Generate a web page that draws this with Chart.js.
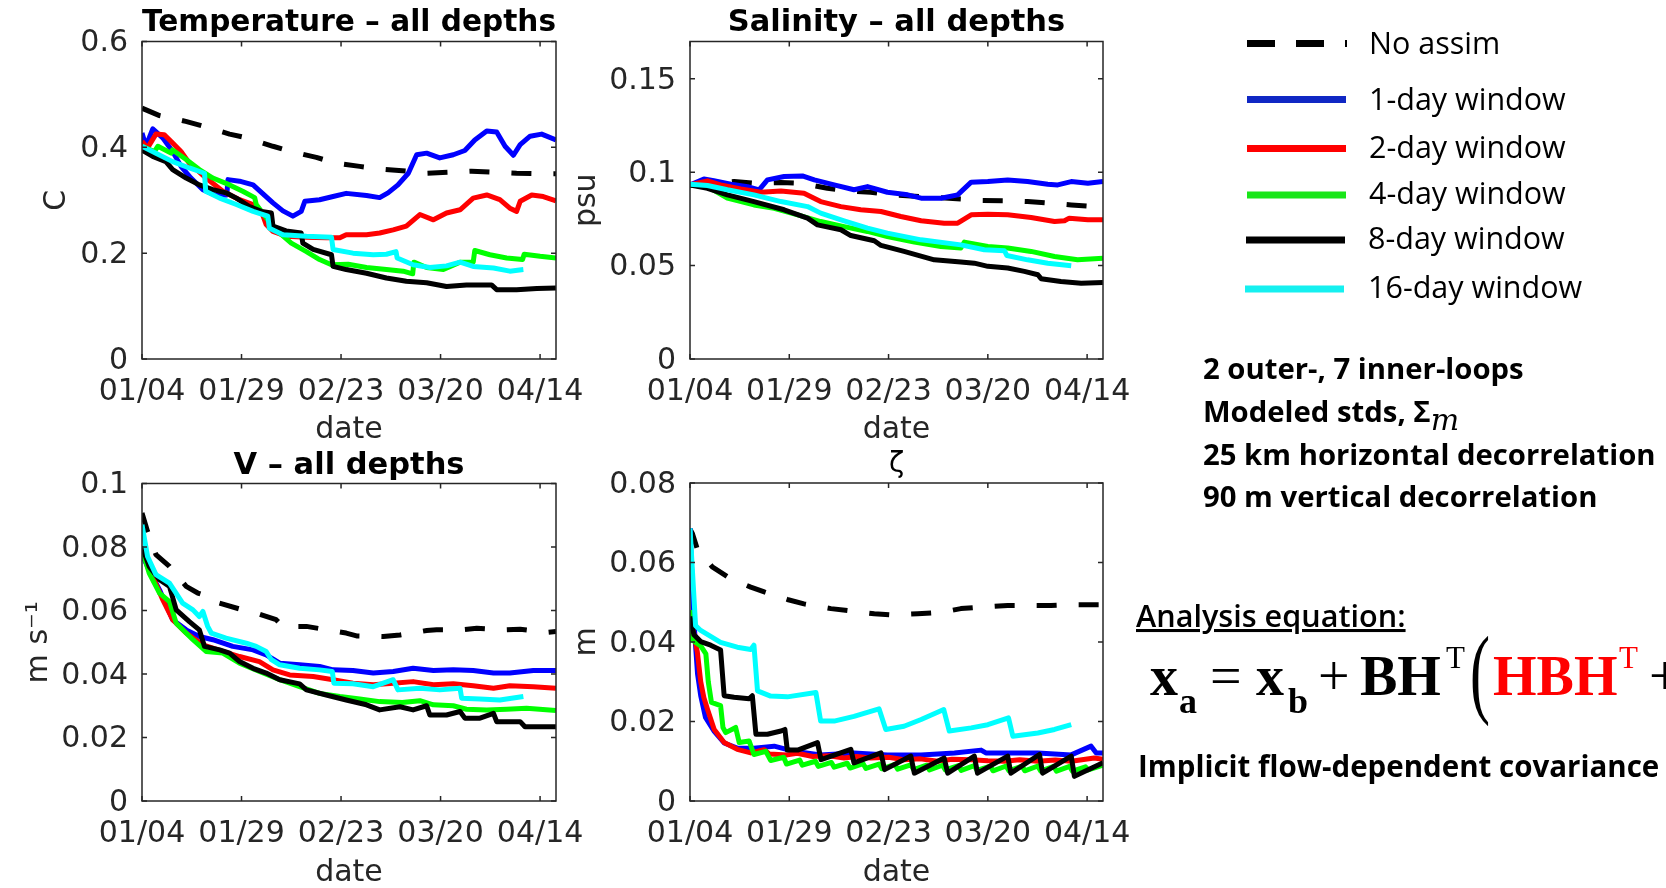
<!DOCTYPE html>
<html>
<head>
<meta charset="utf-8">
<script src="https://cdn.jsdelivr.net/npm/chart.js@4.4.1/dist/chart.umd.min.js"></script>
<style>
  html, body { margin: 0; padding: 0; background: #fff; }
  body { width: 1666px; height: 888px; position: relative; overflow: hidden; }
  canvas.panel { position: absolute; }
  #notes { position: absolute; left: 0; top: 0; }
</style>
</head>
<body>
<canvas id="tempChart" class="panel" width="640" height="450" style="left:0;top:0"></canvas>
<canvas id="saltChart" class="panel" width="600" height="450" style="left:560px;top:0"></canvas>
<canvas id="velChart" class="panel" width="640" height="460" style="left:0;top:440px"></canvas>
<canvas id="zetaChart" class="panel" width="600" height="460" style="left:560px;top:440px"></canvas>

<svg id="notes" width="1666" height="888" xmlns="http://www.w3.org/2000/svg">
  <!-- legend -->
  <g stroke-width="7" fill="none">
    <line x1="1247" y1="43.5" x2="1347" y2="43.5" stroke="#000" stroke-dasharray="28 21"/>
    <line x1="1247" y1="99.5" x2="1346" y2="99.5" stroke="#1027c4"/>
    <line x1="1247" y1="148.5" x2="1346" y2="148.5" stroke="#ff0000"/>
    <line x1="1247" y1="195" x2="1346" y2="195" stroke="#19e619"/>
    <line x1="1246" y1="240" x2="1345" y2="240" stroke="#000"/>
    <line x1="1245" y1="289" x2="1344" y2="289" stroke="#15f0f0"/>
  </g>
  <g font-family="Open Sans" font-size="30.5" fill="#000">
    <text x="1369" y="54">No assim</text>
    <text x="1369" y="110">1-day window</text>
    <text x="1369" y="158">2-day window</text>
    <text x="1369" y="204">4-day window</text>
    <text x="1368" y="249">8-day window</text>
    <text x="1368" y="298">16-day window</text>
  </g>

  <!-- experiment settings -->
  <g font-family="Open Sans" font-weight="700" font-size="29.3" fill="#000">
    <text x="1203" y="379">2 outer-, 7 inner-loops</text>
    <text x="1203" y="422">Modeled stds, Σ<tspan font-family="DejaVu Serif" font-style="italic" font-weight="normal" font-size="30" dy="8">m</tspan></text>
    <text x="1203" y="465">25 km horizontal decorrelation</text>
    <text x="1203" y="507">90 m vertical decorrelation</text>
    <text x="1138" y="777" font-size="29.5">Implicit flow-dependent covariance</text>
  </g>
  <text x="1136" y="627" font-family="Open Sans" font-weight="600" font-size="30.6" text-decoration="underline">Analysis equation:</text>

  <!-- analysis equation -->
  <g font-family="Liberation Serif" fill="#000">
    <text x="1150" y="695" font-size="56" font-weight="bold">x</text>
    <text x="1179" y="713" font-size="36" font-weight="bold">a</text>
    <text x="1210" y="695" font-size="56">=</text>
    <text x="1256" y="695" font-size="56" font-weight="bold">x</text>
    <text x="1288" y="713" font-size="36" font-weight="bold">b</text>
    <text x="1318" y="695" font-size="56">+</text>
    <text x="1360" y="695" font-size="56" font-weight="bold">BH</text>
    <text x="1446" y="668" font-size="31">T</text>
    <text transform="translate(1470,705) scale(1,1.65)" font-size="60">(</text>
    <text x="1493" y="695" font-size="56" font-weight="bold" fill="#ff0000">HBH</text>
    <text x="1619" y="668" font-size="31" fill="#ff0000">T</text>
    <text x="1649" y="695" font-size="56">+</text>
  </g>
</svg>

<script>
// x axis: days since 01/04
const dayTicks = [0, 25, 50, 75, 100];
const dayLabels = ['01/04', '01/29', '02/23', '03/20', '04/14'];

const seriesNames = ['No assim', '1-day window', '2-day window', '4-day window', '8-day window', '16-day window'];
const seriesColors = ['#000000', '#0000ff', '#ff0000', '#00ff00', '#000000', '#00ffff'];

const tempTicks = [0, 0.2, 0.4, 0.6];
const saltTicks = [0, 0.05, 0.1, 0.15];
const velTicks = [0, 0.02, 0.04, 0.06, 0.08, 0.1];
const zetaTicks = [0, 0.02, 0.04, 0.06, 0.08];

// Temperature RMS error (C), [day, value]
const tempNoAssim = [[0,0.474],[4.4,0.460],[11,0.449],[15.3,0.440],[22,0.425],[26.2,0.418],[32.9,0.402],[37.5,0.392],[43.8,0.381],[48.8,0.370],[54.7,0.364],[59.7,0.359],[66.4,0.355],[71.5,0.351],[77.3,0.353],[82.8,0.355],[88.7,0.353],[94.1,0.351],[100,0.350],[104,0.350]];
const tempDay1 = [[0,0.427],[1.0,0.402],[2.7,0.435],[5.2,0.418],[7.7,0.392],[9.8,0.364],[12.3,0.342],[15.3,0.320],[18.6,0.309],[21.3,0.310],[21.6,0.339],[24.5,0.336],[27.9,0.329],[30.4,0.312],[32.9,0.295],[35.4,0.280],[37.9,0.270],[40.0,0.279],[40.9,0.298],[44.6,0.301],[48.0,0.307],[51.3,0.313],[56.4,0.309],[59.7,0.305],[61.8,0.314],[64.3,0.329],[66.9,0.351],[69.0,0.386],[71.5,0.389],[74.8,0.380],[78.2,0.386],[81.1,0.394],[83.6,0.414],[86.6,0.431],[89.1,0.429],[91.2,0.402],[93.3,0.385],[95.0,0.405],[97.5,0.421],[100.4,0.425],[104,0.414]];
const tempDay2 = [[0,0.411],[1.4,0.399],[3.5,0.425],[5.6,0.424],[7.7,0.408],[9.8,0.392],[11.9,0.370],[16.1,0.342],[20.3,0.317],[24.5,0.301],[27.9,0.292],[30.0,0.279],[31.2,0.254],[32.9,0.241],[36.2,0.232],[41.3,0.230],[46.3,0.229],[49.7,0.229],[51.3,0.235],[56.4,0.235],[59.7,0.238],[63.1,0.244],[66.4,0.251],[69.8,0.273],[73.2,0.263],[76.5,0.276],[79.9,0.282],[83.2,0.304],[86.6,0.310],[89.9,0.301],[92.4,0.285],[94.1,0.279],[95.0,0.298],[97.9,0.310],[100.8,0.307],[104,0.299]];
const tempDay4 = [[0,0.402],[3.1,0.392],[4.0,0.402],[7.3,0.389],[7.7,0.395],[11.1,0.377],[14.4,0.358],[17.8,0.342],[22.0,0.329],[25.3,0.317],[28.3,0.305],[28.7,0.292],[31.6,0.263],[34.6,0.238],[37.5,0.219],[41.3,0.203],[44.6,0.188],[47.6,0.178],[51.8,0.179],[56.4,0.173],[61.4,0.169],[65.6,0.166],[68.0,0.161],[68.3,0.183],[71.5,0.173],[75.7,0.169],[79.9,0.183],[83.2,0.183],[83.6,0.205],[87.4,0.197],[91.6,0.191],[95.6,0.188],[96.0,0.198],[100.0,0.194],[104,0.191]];
const tempDay8 = [[0,0.395],[2.7,0.383],[6.0,0.373],[7.7,0.358],[11.1,0.342],[14.4,0.329],[17.8,0.320],[21.1,0.314],[23.7,0.304],[27.0,0.288],[30.0,0.279],[32.5,0.276],[32.9,0.251],[36.2,0.242],[40.0,0.238],[40.4,0.219],[43.0,0.207],[47.6,0.197],[48.0,0.175],[51.3,0.169],[56.4,0.162],[61.4,0.153],[66.4,0.147],[71.5,0.144],[76.5,0.137],[81.5,0.140],[84.9,0.140],[87.8,0.140],[89.1,0.131],[94.1,0.131],[99.2,0.133],[104,0.134]];
const tempDay16 = [[0,0.402],[3.5,0.389],[7.7,0.373],[11.9,0.361],[15.7,0.351],[16.0,0.317],[19.5,0.304],[23.7,0.292],[27.9,0.279],[31.6,0.270],[32.0,0.247],[35.4,0.235],[41.3,0.232],[47.6,0.230],[48.0,0.207],[53.0,0.200],[58.1,0.197],[61.4,0.198],[63.8,0.203],[64.1,0.191],[68.1,0.178],[72.3,0.173],[76.5,0.176],[79.9,0.183],[83.2,0.175],[88.3,0.172],[92.4,0.166],[95.8,0.169]];

// Salinity RMS error (psu)
const saltNoAssim = [[0,0.0932],[11.1,0.0950],[16.1,0.0941],[22.9,0.0945],[28,0.0941],[34.6,0.0914],[39.7,0.0900],[45.5,0.0893],[50.6,0.0879],[58.2,0.0870],[68.2,0.0857],[73.3,0.0849],[80.0,0.0847],[85.0,0.0843],[90.9,0.0834],[96.0,0.0825],[104,0.0813]];
const saltDay1 = [[0,0.0932],[3.5,0.0964],[6.0,0.0954],[10.3,0.0936],[14.5,0.0923],[17.4,0.0906],[19.5,0.0959],[23.7,0.0977],[28.3,0.0980],[31.3,0.0959],[36.3,0.0932],[41.3,0.0906],[44.7,0.0923],[49.7,0.0893],[54.8,0.0879],[58.2,0.0861],[63.2,0.0861],[67.4,0.0879],[70.8,0.0947],[75.0,0.0950],[80.0,0.0959],[85.0,0.0950],[90.1,0.0936],[92.6,0.0932],[96.0,0.0950],[100.2,0.0941],[104,0.0950]];
const saltDay2 = [[0,0.0932],[4.4,0.0954],[7.7,0.0932],[12.8,0.0911],[17.8,0.0893],[22.9,0.0900],[28.7,0.0888],[32.9,0.0843],[38.0,0.0816],[43.0,0.0799],[48.1,0.0790],[53.1,0.0763],[58.2,0.0740],[64.0,0.0727],[67.4,0.0727],[70.8,0.0772],[75.0,0.0775],[80.0,0.0772],[85.9,0.0758],[91.8,0.0736],[94.3,0.0740],[95.5,0.0754],[100.2,0.0745],[104,0.0745]];
const saltDay4 = [[0,0.0932],[4.4,0.0923],[9.4,0.0861],[16.1,0.0825],[21.2,0.0807],[27.1,0.0772],[32.9,0.0736],[38.8,0.0709],[44.7,0.0683],[49.7,0.0656],[56.5,0.0626],[63.2,0.0602],[68.2,0.0594],[69.1,0.0626],[75.0,0.0602],[80.0,0.0594],[85.9,0.0576],[91.8,0.0549],[97.6,0.0531],[104,0.0540]];
const saltDay8 = [[0,0.0932],[4.4,0.0914],[9.4,0.0879],[16.1,0.0843],[23.7,0.0799],[29.6,0.0754],[32.1,0.0718],[38.0,0.0692],[40.5,0.0661],[46.4,0.0633],[48.1,0.0608],[53.9,0.0576],[61.5,0.0531],[68.2,0.0519],[71.6,0.0513],[75.0,0.0496],[80.0,0.0487],[84.2,0.0469],[87.6,0.0451],[88.4,0.0430],[93.4,0.0415],[98.5,0.0406],[104,0.0410]];
const saltDay16 = [[0,0.0936],[4.4,0.0929],[9.4,0.0906],[16.1,0.0879],[22.9,0.0843],[29.6,0.0816],[32.9,0.0781],[38.8,0.0740],[44.7,0.0701],[49.7,0.0674],[58.2,0.0638],[68.2,0.0611],[74.1,0.0585],[79.2,0.0579],[79.8,0.0554],[85.0,0.0531],[90.1,0.0513],[96.0,0.0499]];

// Velocity RMS error (m/s)
const velNoAssim = [[0,0.0907],[1.4,0.0849],[3.5,0.0776],[6.9,0.0739],[11.1,0.0676],[14.0,0.0655],[16.5,0.0645],[17.5,0.0630],[25.3,0.0602],[28.7,0.0592],[33.7,0.0571],[35.4,0.0550],[41.3,0.0550],[45.5,0.0541],[51.3,0.0529],[53.9,0.0520],[60.6,0.0518],[64.8,0.0523],[71.5,0.0537],[74.0,0.0539],[79.9,0.0539],[84.1,0.0544],[90.8,0.0539],[95.0,0.0541],[101.7,0.0531],[104,0.0534]];
const velDay1 = [[0,0.0776],[1.8,0.0728],[4.4,0.0665],[7.7,0.0571],[11.1,0.0539],[14.4,0.0518],[17.8,0.0508],[22.8,0.0487],[27.9,0.0476],[31.2,0.0460],[34.6,0.0434],[39.6,0.0429],[44.6,0.0424],[48.0,0.0413],[53.0,0.0411],[58.1,0.0403],[63.1,0.0408],[68.1,0.0418],[73.2,0.0411],[78.2,0.0413],[83.2,0.0411],[88.3,0.0403],[92.4,0.0403],[98.3,0.0411],[104,0.0411]];
const velDay2 = [[0,0.0786],[2.7,0.0707],[5.2,0.0634],[7.7,0.0571],[11.1,0.0529],[15.3,0.0492],[20.3,0.0471],[24.5,0.0455],[29.5,0.0439],[32.9,0.0413],[37.1,0.0397],[43.0,0.0392],[48.0,0.0382],[53.0,0.0371],[58.1,0.0366],[63.1,0.0371],[68.1,0.0376],[73.2,0.0366],[78.2,0.0369],[83.2,0.0363],[88.3,0.0355],[92.4,0.0363],[98.3,0.0360],[104,0.0355]];
const velDay4 = [[0,0.0791],[1.8,0.0718],[4.4,0.0655],[6.9,0.0628],[8.6,0.0560],[12.8,0.0508],[16.1,0.0471],[20.3,0.0466],[24.5,0.0434],[29.5,0.0408],[34.6,0.0382],[39.6,0.0360],[44.6,0.0339],[49.7,0.0329],[54.7,0.0321],[59.7,0.0313],[65.4,0.0310],[69.8,0.0316],[73.2,0.0303],[78.2,0.0300],[81.5,0.0289],[86.6,0.0287],[91.6,0.0289],[96.6,0.0292],[104,0.0285]];
const velDay8 = [[0,0.0802],[1.8,0.0739],[4.4,0.0697],[6.9,0.0676],[8.6,0.0602],[11.9,0.0565],[14.4,0.0539],[15.7,0.0487],[19.5,0.0476],[22.0,0.0466],[24.5,0.0439],[27.9,0.0418],[31.2,0.0403],[34.6,0.0382],[39.6,0.0369],[41.3,0.0350],[46.3,0.0334],[51.3,0.0318],[56.4,0.0303],[59.7,0.0287],[64.8,0.0297],[68.1,0.0287],[71.5,0.0300],[72.3,0.0271],[76.5,0.0271],[79.9,0.0282],[81.1,0.0261],[84.9,0.0261],[88.3,0.0276],[89.1,0.0250],[95.0,0.0250],[96.2,0.0234],[104,0.0234]];
const velDay16 = [[0,0.0870],[1.4,0.0770],[3.5,0.0713],[6.9,0.0686],[10.2,0.0623],[12.8,0.0602],[14.4,0.0581],[15.3,0.0597],[16.5,0.0550],[17.4,0.0529],[21.1,0.0513],[26.2,0.0497],[28.7,0.0487],[31.2,0.0471],[32.5,0.0445],[34.6,0.0429],[39.6,0.0418],[44.6,0.0413],[47.8,0.0408],[48.2,0.0371],[53.0,0.0369],[58.1,0.0360],[63.1,0.0382],[64.3,0.0350],[69.8,0.0355],[74.8,0.0350],[79.9,0.0355],[80.3,0.0324],[84.9,0.0321],[89.9,0.0318],[95.8,0.0329]];

// Sea surface height RMS error (m)
const zetaNoAssim = [[0,0.0684],[0.6,0.0673],[1.8,0.0635],[5.6,0.0589],[10.3,0.0559],[15.3,0.0538],[18.7,0.0526],[24.5,0.0507],[28.7,0.0496],[35.5,0.0484],[39.7,0.0479],[46.4,0.0471],[50.6,0.0468],[57.3,0.0471],[63.4,0.0475],[68.2,0.0484],[73.3,0.0488],[80.0,0.0492],[85.0,0.0492],[90.9,0.0492],[96.0,0.0494],[104,0.0494]];
const zetaDay1 = [[0,0.0686],[0.5,0.056],[1.2,0.042],[1.9,0.032],[2.7,0.0265],[3.9,0.021],[6.1,0.0175],[8.6,0.0146],[11.9,0.0133],[16.1,0.0133],[21.2,0.0138],[26.2,0.0125],[32.9,0.0116],[41.3,0.0121],[49.7,0.0116],[58.2,0.0116],[66.6,0.0121],[73.3,0.0128],[74.5,0.0121],[80.0,0.0121],[87.6,0.0121],[96.0,0.0116],[101.0,0.0138],[102.3,0.0121],[104,0.0121]];
const zetaDay2 = [[0,0.046],[1.0,0.042],[1.85,0.0375],[2.7,0.030],[3.5,0.026],[4.4,0.0231],[6.1,0.018],[8.6,0.0147],[11.9,0.013],[15.3,0.0121],[18.7,0.0129],[20,0.0118],[24.5,0.0116],[27,0.0120],[30.9,0.0112],[35,0.0114],[38.8,0.0108],[42,0.0112],[45.5,0.0108],[50,0.0110],[53.9,0.0104],[58,0.0106],[62.4,0.0100],[66,0.0105],[70.8,0.0104],[75,0.0101],[79.2,0.0100],[83,0.0104],[87.6,0.0100],[92,0.0103],[96,0.0100],[101.8,0.0108],[104,0.0105]];
const zetaDay4 = [[0,0.048],[0.6,0.0405],[2.7,0.039],[4.0,0.037],[4.6,0.030],[5.4,0.0248],[7.7,0.024],[8.3,0.0185],[9.0,0.0172],[11.5,0.0185],[12.4,0.0147],[14.9,0.0151],[16.1,0.0117],[19.1,0.0125],[20.3,0.0102],[23.6,0.0110],[24.3,0.0093],[27.6,0.0103],[28.3,0.0090],[31.6,0.0100],[32.3,0.0087],[35.6,0.0097],[36.3,0.0085],[39.6,0.0095],[40.3,0.0083],[43.6,0.0094],[44.3,0.0082],[47.6,0.0093],[48.3,0.0081],[51.6,0.0092],[52.3,0.0080],[55.6,0.0091],[56.3,0.0079],[59.6,0.0090],[60.3,0.0078],[63.6,0.0090],[64.3,0.0078],[67.6,0.0089],[68.3,0.0077],[71.6,0.0089],[72.3,0.0077],[75.6,0.0088],[76.3,0.0076],[79.6,0.0088],[80.3,0.0076],[83.6,0.0088],[84.3,0.0076],[87.6,0.0088],[88.3,0.0075],[91.6,0.0087],[92.3,0.0075],[95.6,0.0087],[96.3,0.0075],[99.6,0.0086],[100.3,0.0078],[104,0.0090]];
const zetaDay8 = [[0,0.0464],[1.0,0.0418],[2.7,0.0401],[5.2,0.0392],[7.7,0.0380],[8.6,0.0265],[11.1,0.0261],[14.9,0.0257],[15.7,0.0265],[16.6,0.0168],[19.5,0.0168],[22.9,0.0176],[23.9,0.0180],[24.5,0.0128],[27.1,0.0128],[32.1,0.0147],[33.0,0.0104],[40.5,0.0130],[41.3,0.0096],[48.1,0.0121],[49.0,0.0079],[55.6,0.0113],[56.5,0.0070],[64.0,0.0108],[64.9,0.0070],[71.6,0.0113],[72.4,0.0070],[80.0,0.0113],[80.8,0.0070],[88.0,0.0117],[88.8,0.0070],[96.0,0.0113],[96.8,0.0062],[104,0.0096]];
const zetaDay16 = [[0,0.0686],[1.4,0.0441],[2.7,0.0429],[7.7,0.0399],[11.9,0.0387],[15.3,0.0381],[16.1,0.0392],[17.0,0.0277],[20.3,0.0264],[24.5,0.0262],[31.7,0.0273],[32.9,0.0201],[36.3,0.0201],[41.3,0.0213],[47.6,0.0232],[49.3,0.0180],[53.9,0.0188],[58.2,0.0205],[63.9,0.0230],[65.3,0.0176],[70.8,0.0184],[75.0,0.0192],[80.2,0.0209],[81.3,0.0163],[87.6,0.0171],[91.8,0.0180],[96.0,0.0192]];

const tickFont = { family: 'DejaVu Sans', size: 30, lineHeight: 1 };
const labelFont = { family: 'DejaVu Sans', size: 30, lineHeight: 1 };
const axisColor = '#262626';

// box around the plot area with inward tick marks on all four sides
const framePlugin = {
  id: 'frame',
  afterDatasetsDraw(chart) {
    const { ctx, chartArea: a } = chart;
    const xs = chart.scales.x;
    const ys = chart.scales.y;
    ctx.save();
    ctx.strokeStyle = axisColor;
    ctx.lineWidth = 1.5;
    ctx.beginPath();
    xs.ticks.forEach(t => {
      const p = xs.getPixelForValue(t.value);
      ctx.moveTo(p, a.bottom);
      ctx.lineTo(p, a.bottom - 5);
      ctx.moveTo(p, a.top);
      ctx.lineTo(p, a.top + 5);
    });
    ys.ticks.forEach(t => {
      const p = ys.getPixelForValue(t.value);
      ctx.moveTo(a.left, p);
      ctx.lineTo(a.left + 5, p);
      ctx.moveTo(a.right, p);
      ctx.lineTo(a.right - 5, p);
    });
    ctx.stroke();
    ctx.strokeRect(a.left, a.top, a.right - a.left, a.bottom - a.top);
    ctx.restore();
  }
};

function drawPanel(canvasId, p) {
  const datasets = p.series.map((pts, i) => ({
    label: seriesNames[i],
    data: pts.map(([x, y]) => ({ x, y })),
    borderColor: seriesColors[i],
    borderWidth: 5,
    borderDash: i === 0 ? [20, 22] : [],
    borderJoinStyle: 'round',
    pointRadius: 0,
    fill: false,
    order: seriesNames.length - 1 - i
  }));

  return new Chart(document.getElementById(canvasId), {
    type: 'line',
    data: { datasets },
    options: {
      responsive: false,
      animation: false,
      devicePixelRatio: 1,
      layout: { padding: { left: 0, top: 0, right: p.padRight, bottom: 0 } },
      plugins: {
        legend: { display: false },
        tooltip: { enabled: false },
        title: {
          display: true,
          text: p.title,
          fullSize: false,
          color: '#000',
          font: { family: 'DejaVu Sans', size: p.titleSize, weight: p.titleWeight, lineHeight: 1 },
          padding: { top: p.titleTop, bottom: p.titleBottom }
        }
      },
      scales: {
        x: {
          type: 'linear',
          min: 0,
          max: 104,
          grid: { display: false, drawTicks: false },
          border: { display: false },
          afterBuildTicks: s => { s.ticks = dayTicks.map(v => ({ value: v })); },
          afterFit: s => { s.height = p.xAxisHeight; },
          ticks: {
            callback: v => dayLabels[dayTicks.indexOf(v)],
            color: axisColor,
            font: tickFont,
            padding: 18,
            maxRotation: 0,
            autoSkip: false
          },
          title: { display: true, text: 'date', color: axisColor, font: labelFont, padding: { top: 0, bottom: p.datePad } }
        },
        y: {
          min: 0,
          max: p.yMax,
          grid: { display: false, drawTicks: false },
          border: { display: false },
          afterBuildTicks: s => { s.ticks = p.yTicks.map(v => ({ value: v })); },
          afterFit: s => { s.width = p.yAxisWidth; },
          ticks: { callback: v => String(v), color: axisColor, font: tickFont, padding: 14, labelOffset: 2 },
          title: { display: true, text: p.yTitle, color: axisColor, font: labelFont, padding: { top: p.yTitlePad, bottom: 0 } }
        }
      }
    },
    plugins: [framePlugin]
  });
}

drawPanel('tempChart', {
  title: 'Temperature – all depths', titleSize: 30.5, titleWeight: 'bold', titleTop: 8, titleBottom: 3,
  yTitle: 'C', yTitlePad: 42, yMax: 0.6, yTicks: tempTicks,
  series: [tempNoAssim, tempDay1, tempDay2, tempDay4, tempDay8, tempDay16],
  yAxisWidth: 142, padRight: 84, xAxisHeight: 91, datePad: 5
});

drawPanel('saltChart', {
  title: 'Salinity – all depths', titleSize: 30.5, titleWeight: 'bold', titleTop: 8, titleBottom: 3,
  yTitle: 'psu', yTitlePad: 12, yMax: 0.17, yTicks: saltTicks,
  series: [saltNoAssim, saltDay1, saltDay2, saltDay4, saltDay8, saltDay16],
  yAxisWidth: 130, padRight: 57, xAxisHeight: 91, datePad: 5
});

drawPanel('velChart', {
  title: 'V – all depths', titleSize: 30.5, titleWeight: 'bold', titleTop: 11, titleBottom: 2,
  yTitle: 'm s⁻¹', yTitlePad: 24, yMax: 0.1, yTicks: velTicks,
  series: [velNoAssim, velDay1, velDay2, velDay4, velDay8, velDay16],
  yAxisWidth: 142, padRight: 84, xAxisHeight: 99, datePad: 12
});

drawPanel('zetaChart', {
  title: 'ζ', titleSize: 28, titleWeight: 'normal', titleTop: 11, titleBottom: 4,
  yTitle: 'm', yTitlePad: 12, yMax: 0.08, yTicks: zetaTicks,
  series: [zetaNoAssim, zetaDay1, zetaDay2, zetaDay4, zetaDay8, zetaDay16],
  yAxisWidth: 130, padRight: 57, xAxisHeight: 99, datePad: 12
});
</script>
</body>
</html>
